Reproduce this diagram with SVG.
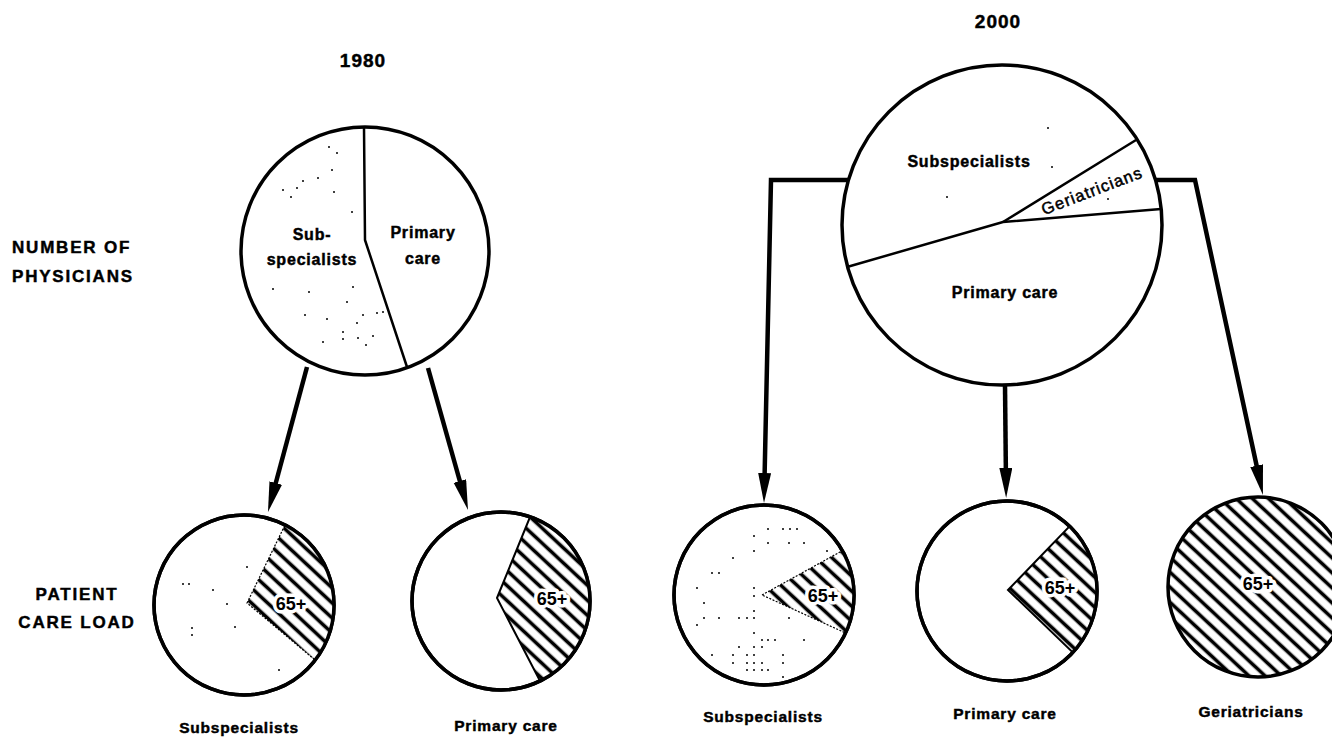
<svg xmlns="http://www.w3.org/2000/svg" width="1332" height="738" viewBox="0 0 1332 738">
<defs>
<pattern id="hatch" patternUnits="userSpaceOnUse" width="11" height="11" patternTransform="rotate(-47)">
<rect width="11" height="11" fill="#fff"/>
<line x1="5.5" y1="-1" x2="5.5" y2="12" stroke="#000" stroke-width="3.6"/>
</pattern>
<marker id="ah" markerUnits="userSpaceOnUse" markerWidth="32" markerHeight="14" refX="16" refY="6.5" orient="auto">
<path d="M0,0 L30,6.5 L0,13 Z" fill="#000"/>
</marker>
<style>
.c{fill:#fff;stroke:#000;stroke-width:3.5}
.div{fill:none;stroke:#000;stroke-width:2.5;stroke-linejoin:round}
.w{stroke:#000;stroke-width:2}
.wr{stroke:#000;stroke-width:1.2;stroke-dasharray:2 1.5}
.conn{fill:none;stroke:#000;stroke-width:4.5;stroke-linejoin:miter}
.t{font-family:"Liberation Sans",Arial,sans-serif;font-weight:bold;fill:#000;stroke:#000;stroke-width:0.45}
.lab{font-size:15.5px;letter-spacing:0.8px;text-anchor:middle}
.in{font-size:16px;letter-spacing:0.8px;text-anchor:middle}
.side{font-size:17px;letter-spacing:1.8px}
.yr{font-size:19px;letter-spacing:1px;text-anchor:middle}
.sf{font-family:"Liberation Sans",Arial,sans-serif;font-weight:bold;font-size:18px;text-anchor:middle;fill:#000;stroke:#fff;stroke-width:7;paint-order:stroke;stroke-linejoin:round}
.d{fill:#000}
</style>
</defs>

<g id="titles">
<text class="t yr" x="363" y="67">1980</text>
<text class="t yr" x="998" y="28">2000</text>
</g>

<g id="row-labels">
<text class="t side" x="12" y="253">NUMBER OF</text>
<text class="t side" x="12" y="282">PHYSICIANS</text>
<text class="t side" x="77" y="600" text-anchor="middle">PATIENT</text>
<text class="t side" x="77" y="628" text-anchor="middle">CARE LOAD</text>
</g>

<g id="connectors">
<path class="conn" d="M307,367 L271.6,498.5" marker-end="url(#ah)"/>
<path class="conn" d="M428,368 L464.2,496.5" marker-end="url(#ah)"/>
<path class="conn" d="M849,180 L771,180 L764.3,489" marker-end="url(#ah)"/>
<path class="conn" d="M1005,385 L1006,484" marker-end="url(#ah)"/>
<path class="conn" d="M1155,180 L1195,180 L1260,481.3" marker-end="url(#ah)"/>
</g>

<g id="physicians-1980">
<circle class="c" cx="365" cy="251" r="124"/>
<path class="div" d="M364,127 L365,240 L407,367"/>
<g class="d">
<circle cx="329" cy="147" r="1"/><circle cx="337" cy="153" r="1"/><circle cx="332" cy="170" r="1"/>
<circle cx="318" cy="178" r="1"/><circle cx="303" cy="181" r="1"/><circle cx="297" cy="188" r="1"/>
<circle cx="283" cy="190" r="1"/><circle cx="291" cy="197" r="1"/><circle cx="334" cy="192" r="1"/>
<circle cx="352" cy="212" r="1"/><circle cx="273" cy="289" r="1"/><circle cx="309" cy="292" r="1"/>
<circle cx="353" cy="287" r="1"/><circle cx="347" cy="302" r="1"/><circle cx="305" cy="315" r="1"/>
<circle cx="327" cy="319" r="1"/><circle cx="357" cy="323" r="1"/><circle cx="363" cy="315" r="1"/>
<circle cx="377" cy="313" r="1"/><circle cx="383" cy="312" r="1"/><circle cx="343" cy="332" r="1"/>
<circle cx="343" cy="339" r="1"/><circle cx="358" cy="338" r="1"/><circle cx="373" cy="336" r="1"/>
<circle cx="366" cy="345" r="1"/><circle cx="323" cy="342" r="1"/>
</g>
<text class="t in" x="312" y="240">Sub-</text>
<text class="t in" x="312" y="265">specialists</text>
<text class="t in" x="423" y="238">Primary</text>
<text class="t in" x="423" y="264">care</text>
</g>

<g id="physicians-2000">
<circle class="c" cx="1002" cy="225" r="160"/>
<path class="div" d="M847,267 L1003,222 L1161,209"/>
<path class="div" d="M1003,222 L1136,140" stroke-width="4"/>
<g class="d">
<circle cx="1048" cy="128" r="1"/><circle cx="1052" cy="167" r="1"/>
<circle cx="947" cy="197" r="1"/><circle cx="1108" cy="199" r="1"/>
</g>
<text class="t in" x="969" y="167">Subspecialists</text>
<text class="t in" x="1005" y="298">Primary care</text>
<text x="1094" y="196" transform="rotate(-21 1094 196)" text-anchor="middle" font-family="'Liberation Sans',Arial,sans-serif" font-size="16.5" letter-spacing="1.1" fill="#000" stroke="#000" stroke-width="0.5">Geriatricians</text>
</g>

<g id="load-sub-1980">
<circle class="c" cx="244" cy="605" r="90"/>
<path d="M247,603 L285,525 A90,90 0 0,1 315,660 Z" fill="url(#hatch)" class="wr"/>
<circle cx="244" cy="605" r="90" fill="none" stroke="#000" stroke-width="3.5"/>
<g class="d">
<circle cx="247" cy="567" r="1"/><circle cx="183" cy="584" r="1"/><circle cx="189" cy="584" r="1"/>
<circle cx="213" cy="590" r="1"/><circle cx="227" cy="604" r="1"/><circle cx="192" cy="628" r="1"/>
<circle cx="192" cy="635" r="1"/><circle cx="235" cy="627" r="1"/><circle cx="279" cy="670" r="1"/>
</g>
<text class="sf" x="291" y="610">65+</text>
<text class="t lab" x="239" y="733">Subspecialists</text>
</g>

<g id="load-primary-1980">
<circle class="c" cx="501" cy="601" r="89"/>
<path d="M497,598 L530,517 A89,89 0 0,1 540,681 Z" fill="url(#hatch)" class="w"/>
<circle cx="501" cy="601" r="89" fill="none" stroke="#000" stroke-width="3.5"/>
<text class="sf" x="552" y="605">65+</text>
<text class="t lab" x="506" y="731">Primary care</text>
</g>

<g id="load-sub-2000">
<circle class="c" cx="764" cy="595" r="90"/>
<path d="M762,595 L842.3,550.7 A90,90 0 0,1 845.6,633 Z" fill="url(#hatch)" class="wr"/>
<circle cx="764" cy="595" r="90" fill="none" stroke="#000" stroke-width="3.5"/>
<g class="d">
<circle cx="768" cy="529" r="1"/><circle cx="783" cy="529" r="1"/><circle cx="790" cy="529" r="1"/><circle cx="797" cy="529" r="1"/>
<circle cx="754" cy="536" r="1"/><circle cx="768" cy="543" r="1"/><circle cx="789" cy="543" r="1"/><circle cx="804" cy="543" r="1"/>
<circle cx="754" cy="551" r="1"/><circle cx="733" cy="558" r="1"/><circle cx="712" cy="573" r="1"/><circle cx="719" cy="573" r="1"/>
<circle cx="697" cy="588" r="1"/><circle cx="754" cy="588" r="1"/><circle cx="754" cy="596" r="1"/><circle cx="704" cy="603" r="1"/>
<circle cx="754" cy="611" r="1"/><circle cx="704" cy="618" r="1"/><circle cx="719" cy="618" r="1"/><circle cx="739" cy="618" r="1"/>
<circle cx="747" cy="618" r="1"/><circle cx="754" cy="618" r="1"/><circle cx="789" cy="618" r="1"/><circle cx="697" cy="625" r="1"/>
<circle cx="754" cy="633" r="1"/><circle cx="762" cy="640" r="1"/><circle cx="768" cy="640" r="1"/><circle cx="775" cy="640" r="1"/>
<circle cx="804" cy="640" r="1"/><circle cx="739" cy="647" r="1"/><circle cx="754" cy="647" r="1"/><circle cx="762" cy="647" r="1"/>
<circle cx="712" cy="655" r="1"/><circle cx="733" cy="655" r="1"/><circle cx="747" cy="655" r="1"/><circle cx="754" cy="655" r="1"/>
<circle cx="783" cy="655" r="1"/><circle cx="733" cy="663" r="1"/><circle cx="747" cy="663" r="1"/><circle cx="754" cy="663" r="1"/>
<circle cx="762" cy="663" r="1"/><circle cx="783" cy="663" r="1"/><circle cx="747" cy="670" r="1"/><circle cx="754" cy="670" r="1"/>
<circle cx="762" cy="670" r="1"/><circle cx="768" cy="670" r="1"/><circle cx="783" cy="677" r="1"/><circle cx="827" cy="551" r="1"/>
</g>
<text class="sf" x="823" y="602">65+</text>
<text class="t lab" x="763" y="722">Subspecialists</text>
</g>

<g id="load-primary-2000">
<circle class="c" cx="1007" cy="591" r="90"/>
<path d="M1008,590 L1069.5,526.3 A90,90 0 0,1 1072.8,652.4 Z" fill="url(#hatch)" class="w"/>
<circle cx="1007" cy="591" r="90" fill="none" stroke="#000" stroke-width="3.5"/>
<text class="sf" x="1060" y="594">65+</text>
<text class="t lab" x="1005" y="719">Primary care</text>
</g>

<g id="load-geriatricians-2000">
<circle cx="1258" cy="587" r="90" fill="url(#hatch)" stroke="#000" stroke-width="3.5"/>
<text class="sf" x="1258" y="590">65+</text>
<text class="t lab" x="1251" y="717">Geriatricians</text>
</g>
</svg>
